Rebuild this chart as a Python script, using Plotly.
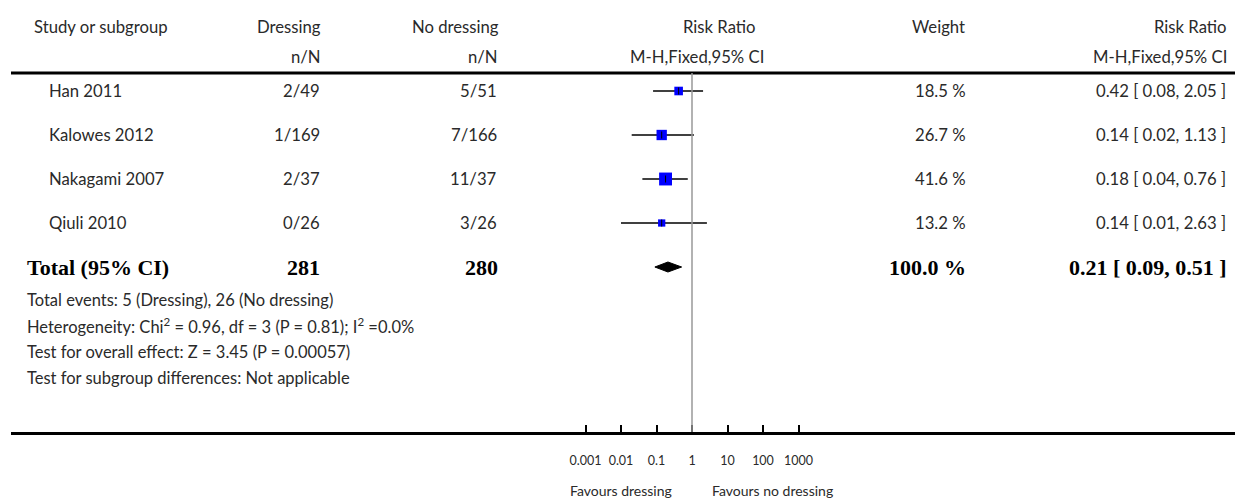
import plotly.graph_objects as go
import math

# ---------------- data ----------------
studies = ["Han 2011", "Kalowes 2012", "Nakagami 2007", "Qiuli 2010"]
dressing_nN = ["2/49", "1/169", "2/37", "0/26"]
nodressing_nN = ["5/51", "7/166", "11/37", "3/26"]
rr = [0.42, 0.14, 0.18, 0.14]
ci_low = [0.08, 0.02, 0.04, 0.01]
ci_high = [2.05, 1.13, 0.76, 2.63]
weights = [18.5, 26.7, 41.6, 13.2]

total_label = "Total (95% CI)"
total_dressing = "281"
total_nodressing = "280"
total_rr = 0.21
total_low = 0.09
total_high = 0.51
total_weight = 100.0

footnotes = [
    "Total events: 5 (Dressing), 26 (No dressing)",
    "Heterogeneity: Chi<sup>2</sup> = 0.96, df = 3 (P = 0.81); I<sup>2</sup> =0.0%",
    "Test for overall effect: Z = 3.45 (P = 0.00057)",
    "Test for subgroup differences: Not applicable",
]
tick_vals = [0.001, 0.01, 0.1, 1, 10, 100, 1000]
tick_text = ["0.001", "0.01", "0.1", "1", "10", "100", "1000"]
favours_left = "Favours dressing"
favours_right = "Favours no dressing"

# ---------------- layout geometry ----------------
W, H = 1235, 499
ML, MR, MT, MB = 11, 0, 0, 67
PW, PH = W - ML - MR, H - MT - MB
X_ONE = 692.0        # pixel of RR = 1
DEC = 35.5           # pixels per decade
ROW0, ROWSTEP = 91.0, 44.0

def xp(px):
    return (px - ML) / PW

def yp(py):
    return (MT + PH - py) / PH

x_range = [(ML - X_ONE) / DEC, (W - MR - X_ONE) / DEC]
y_range = [(MT + PH - ROW0) / ROWSTEP, (MT - ROW0) / ROWSTEP]

FONT = "Lato, 'Open Sans', sans-serif"
SERIF = "'Liberation Serif', 'DejaVu Serif', serif"
TXT = "#2a2a2a"
FS = 16.7

fig = go.Figure()

rows = list(range(len(studies)))
total_row = len(studies)

# CI lines
cx, cy = [], []
for i in rows:
    cx += [ci_low[i], ci_high[i], None]
    cy += [i, i, None]
fig.add_trace(go.Scatter(x=cx, y=cy, mode="lines",
                         line=dict(color="black", width=1.5),
                         hoverinfo="skip", showlegend=False))
# weight squares
fig.add_trace(go.Scatter(x=rr, y=rows, mode="markers",
                         marker=dict(symbol="square", color="#0000ff", opacity=1,
                                     size=[2.0 * math.sqrt(w) for w in weights],
                                     line=dict(width=0)),
                         showlegend=False))
# point estimate ticks
fig.add_trace(go.Scatter(x=rr, y=rows, mode="markers",
                         marker=dict(symbol="line-ns", size=5,
                                     line=dict(color="black", width=1)),
                         showlegend=False, hoverinfo="skip"))
# diamond
dh = 5.0 / ROWSTEP
fig.add_trace(go.Scatter(
    x=[total_low, total_rr, total_high, total_rr, total_low],
    y=[total_row, total_row - dh, total_row, total_row + dh, total_row],
    mode="lines", fill="toself", fillcolor="black",
    line=dict(color="black", width=1), showlegend=False, hoverinfo="skip"))

shapes = [
    # top header rule
    dict(type="line", xref="paper", yref="paper", x0=0, x1=1,
         y0=yp(73), y1=yp(73), line=dict(color="black", width=3)),
    # line of no effect
    dict(type="line", xref="x", yref="paper", x0=1, x1=1,
         y0=0, y1=yp(73), line=dict(color="#999999", width=1.5)),
]

ann = []

def add_text(text, px, y, anchor, yref="paper", font=None):
    ann.append(dict(text=text, x=xp(px), y=y, xref="paper", yref=yref,
                    xanchor=anchor, yanchor="middle", showarrow=False,
                    font=font or dict(family=FONT, size=FS, color=TXT)))

# headers
add_text("Study or subgroup", 32, yp(27), "left")
add_text("Dressing", 323, yp(27), "right")
add_text("No dressing", 501, yp(27), "right")
add_text("Risk Ratio", 719, yp(27), "center")
add_text("Weight", 967, yp(27), "right")
add_text("Risk Ratio", 1229, yp(27), "right")
add_text("n/N", 323, yp(57), "right")
add_text("n/N", 500, yp(57), "right")
add_text("M-H,Fixed,95% CI", 697, yp(57), "center")
add_text("M-H,Fixed,95% CI", 1229, yp(57), "right")

# study rows
for i in rows:
    add_text(studies[i], 47, i, "left", yref="y")
    add_text(dressing_nN[i], 322, i, "right", yref="y")
    add_text(nodressing_nN[i], 499, i, "right", yref="y")
    add_text(f"{weights[i]:.1f} %", 968, i, "right", yref="y")
    add_text(f"{rr[i]:.2f} [ {ci_low[i]:.2f}, {ci_high[i]:.2f} ]", 1228, i, "right", yref="y")

# total row
bold = dict(family=SERIF, size=22, color="black")
add_text(f"<b>{total_label}</b>", 25, total_row, "left", yref="y", font=bold)
add_text(f"<b>{total_dressing}</b>", 322, total_row, "right", yref="y", font=bold)
add_text(f"<b>{total_nodressing}</b>", 500, total_row, "right", yref="y", font=bold)
add_text(f"<b>{total_weight:.1f} %</b>", 968, total_row, "right", yref="y", font=bold)
add_text(f"<b>{total_rr:.2f} [ {total_low:.2f}, {total_high:.2f} ]</b>", 1229, total_row, "right", yref="y", font=bold)

# footnotes
for k, t in enumerate(footnotes):
    add_text(t, 25, yp(300 + 26 * k), "left",
             font=dict(family=FONT, size=16.5, color=TXT))

# favours
add_text(favours_left, 674, yp(490), "right", font=dict(family=FONT, size=14, color=TXT))
add_text(favours_right, 710, yp(490), "left", font=dict(family=FONT, size=14, color=TXT))

fig.update_layout(
    width=W, height=H,
    margin=dict(l=ML, r=MR, t=MT, b=MB, pad=0),
    paper_bgcolor="white", plot_bgcolor="white",
    showlegend=False,
    shapes=shapes, annotations=ann,
    xaxis=dict(type="log", range=x_range, showgrid=False, zeroline=False,
               showline=True, linecolor="black", linewidth=3,
               ticks="inside", ticklen=7, tickwidth=2, tickcolor="black",
               tickvals=tick_vals, ticktext=tick_text,
               tickfont=dict(family=FONT, size=12.5, color=TXT),
               ticklabelstandoff=15, fixedrange=True),
    yaxis=dict(range=y_range, visible=False, showgrid=False, zeroline=False,
               fixedrange=True),
)

fig.write_html("out.html", config={"displayModeBar": False})

# remove the browser's default page margin so the figure sits at (0, 0)
with open("out.html", "r", encoding="utf-8") as f:
    html = f.read()
html = html.replace("<head>", "<head><style>html,body{margin:0;padding:0;overflow:hidden;}</style>", 1)
with open("out.html", "w", encoding="utf-8") as f:
    f.write(html)
